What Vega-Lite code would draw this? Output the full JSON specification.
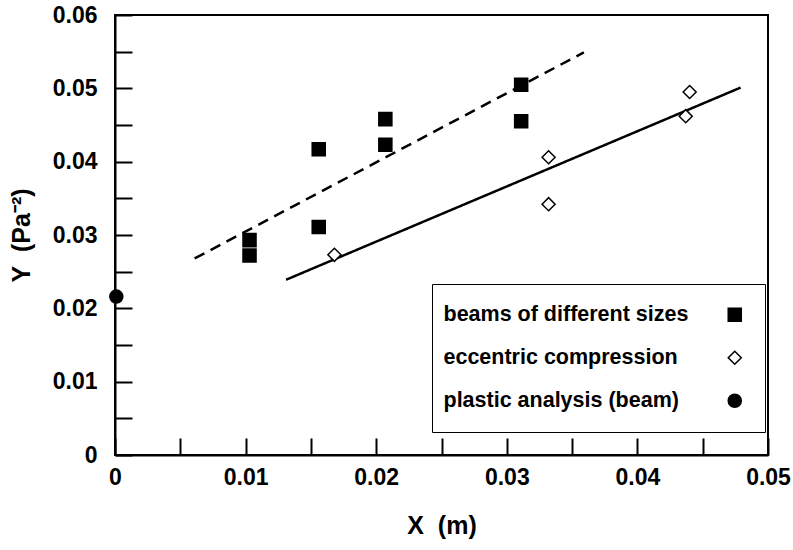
{
  "$schema": "https://vega.github.io/schema/vega-lite/v6.json",
  "width": 653,
  "height": 440,
  "autosize": {"type": "none"},
  "padding": {"left": 115, "top": 15, "right": 25, "bottom": 95},
  "config": {
    "font": "Liberation Sans",
    "view": {"stroke": "black", "strokeWidth": 2}
  },
  "datasets": {
    "points": [
      {"x": 0.0103, "y": 0.0293, "series": "beams of different sizes"},
      {"x": 0.0103, "y": 0.0272, "series": "beams of different sizes"},
      {"x": 0.0156, "y": 0.0417, "series": "beams of different sizes"},
      {"x": 0.0156, "y": 0.0311, "series": "beams of different sizes"},
      {"x": 0.0207, "y": 0.0458, "series": "beams of different sizes"},
      {"x": 0.0207, "y": 0.0423, "series": "beams of different sizes"},
      {"x": 0.0311, "y": 0.0505, "series": "beams of different sizes"},
      {"x": 0.0311, "y": 0.0455, "series": "beams of different sizes"},
      {"x": 0.0168, "y": 0.0273, "series": "eccentric compression"},
      {"x": 0.0332, "y": 0.0406, "series": "eccentric compression"},
      {"x": 0.0332, "y": 0.0342, "series": "eccentric compression"},
      {"x": 0.0440, "y": 0.0495, "series": "eccentric compression"},
      {"x": 0.0437, "y": 0.0462, "series": "eccentric compression"},
      {"x": 0.0001, "y": 0.0216, "series": "plastic analysis (beam)"}
    ],
    "lines": [
      {"x": 0.0061, "y": 0.0268, "line": "dashed"},
      {"x": 0.0359, "y": 0.0549, "line": "dashed"},
      {"x": 0.0131, "y": 0.0239, "line": "solid"},
      {"x": 0.0479, "y": 0.0501, "line": "solid"}
    ]
  },
  "encoding": {
    "x": {
      "field": "x",
      "type": "quantitative",
      "scale": {"domain": [0, 0.05], "nice": false, "zero": false},
      "axis": {
        "title": "X\u00a0\u00a0(m)",
        "values": [0, 0.005, 0.01, 0.015, 0.02, 0.025, 0.03, 0.035, 0.04, 0.045, 0.05],
        "labelExpr": "round(datum.value*200)%2==0 ? (datum.value==0 ? '0' : format(datum.value, '.2f')) : ''",
        "grid": false,
        "ticks": true,
        "tickSize": -17,
        "tickColor": "black",
        "tickWidth": 2,
        "encode": {"ticks": {
          "enter": {"y2": {"signal": "round(datum.value*200)%2==0 ? -17 : -10"}},
          "update": {"y2": {"signal": "round(datum.value*200)%2==0 ? -17 : -10"}}
        }},
        "domainColor": "black",
        "domainWidth": 2,
        "labelPadding": 28,
        "labelFont": "Liberation Sans",
        "labelFontSize": 23,
        "labelFontWeight": "bold",
        "labelColor": "black",
        "labelFlush": false,
        "titleFont": "Liberation Sans",
        "titleFontSize": 25,
        "titleFontWeight": "bold",
        "titleColor": "black",
        "titlePadding": 24
      }
    },
    "y": {
      "field": "y",
      "type": "quantitative",
      "scale": {"domain": [0, 0.06], "nice": false},
      "axis": {
        "title": "Y\u00a0\u00a0(Pa⁻²)",
        "values": [0, 0.005, 0.01, 0.015, 0.02, 0.025, 0.03, 0.035, 0.04, 0.045, 0.05, 0.055, 0.06],
        "labelExpr": "round(datum.value*200)%2==0 ? (datum.value==0 ? '0' : format(datum.value, '.2f')) : ''",
        "grid": false,
        "ticks": true,
        "tickSize": -17,
        "tickColor": "black",
        "tickWidth": 2,
        "encode": {"ticks": {
          "enter": {"x2": {"signal": "round(datum.value*200)%2==0 ? 17 : 10"}},
          "update": {"x2": {"signal": "round(datum.value*200)%2==0 ? 17 : 10"}}
        }},
        "domainColor": "black",
        "domainWidth": 2,
        "labelPadding": 35,
        "labelFont": "Liberation Sans",
        "labelFontSize": 23,
        "labelFontWeight": "bold",
        "labelColor": "black",
        "labelFlush": false,
        "titleFont": "Liberation Sans",
        "titleFontSize": 25,
        "titleFontWeight": "bold",
        "titleColor": "black",
        "titlePadding": 18
      }
    }
  },
  "layer": [
    {
      "data": {"name": "lines"},
      "mark": {"type": "line", "color": "black", "strokeWidth": 2.5},
      "encoding": {
        "detail": {"field": "line", "type": "nominal"},
        "strokeDash": {
          "field": "line",
          "type": "nominal",
          "scale": {"domain": ["dashed", "solid"], "range": [[11, 7], [1, 0]]},
          "legend": null
        }
      }
    },
    {
      "data": {"name": "points"},
      "mark": {"type": "point", "filled": true, "stroke": "black", "strokeWidth": 1.5, "opacity": 1},
      "encoding": {
        "shape": {
          "field": "series",
          "type": "nominal",
          "scale": {
            "domain": ["beams of different sizes", "eccentric compression", "plastic analysis (beam)"],
            "range": ["square", "diamond", "circle"]
          },
          "legend": {
            "orient": "none",
            "legendX": 317,
            "legendY": 269,
            "title": null,
            "labelFont": "Liberation Sans",
            "labelFontSize": 21.5,
            "labelFontWeight": "bold",
            "labelColor": "black",
            "labelAlign": "left",
            "labelOffset": -302,
            "labelLimit": 400,
            "strokeColor": "black",
            "padding": 20,
            "rowPadding": 20,
            "symbolOffset": 272,
            "symbolStrokeColor": "black",
            "symbolStrokeWidth": 1.5
          }
        },
        "fill": {
          "field": "series",
          "type": "nominal",
          "scale": {
            "domain": ["beams of different sizes", "eccentric compression", "plastic analysis (beam)"],
            "range": ["black", "white", "black"]
          }
        },
        "size": {
          "field": "series",
          "type": "nominal",
          "scale": {
            "domain": ["beams of different sizes", "eccentric compression", "plastic analysis (beam)"],
            "range": [170, 170, 50]
          }
        }
      }
    }
  ]
}
